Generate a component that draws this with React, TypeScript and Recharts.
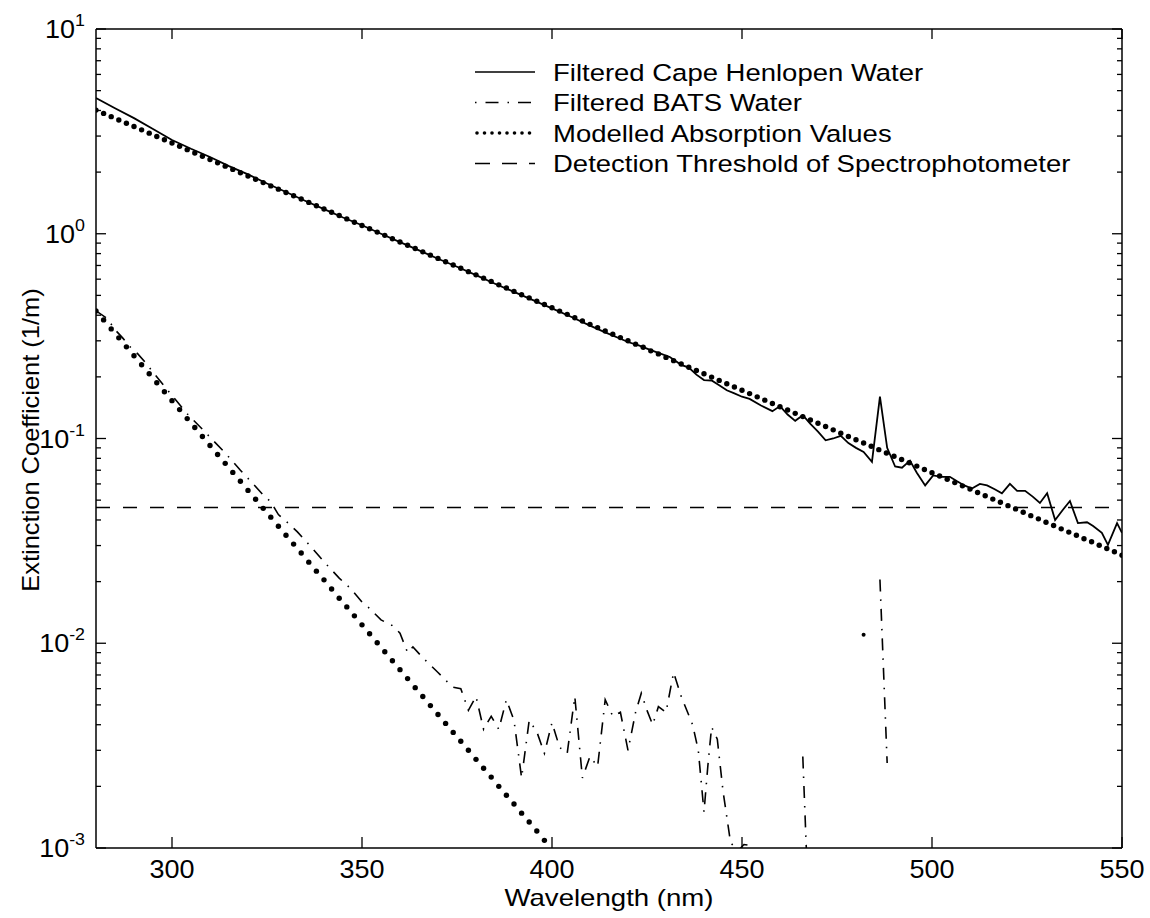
import React from 'react';
import { LineChart, Line, XAxis, YAxis, ReferenceLine } from 'recharts';

const FONT = '"Liberation Sans", Arial, Helvetica, sans-serif';

// Filtered Cape Henlopen water (solid)
const capeNm = [
  280, 285, 290, 295, 300, 305, 310, 315, 320, 325, 330, 335, 340, 345, 350, 355, 360, 365, 370, 375,
  380, 385, 390, 395, 400, 405, 410, 414, 418, 420, 423, 426, 428, 431, 434, 436, 438, 440, 442, 444,
  446, 448, 450, 452, 455, 458, 460, 462, 464, 466, 468, 470, 472, 474, 476, 478, 480, 482, 484.2, 486.3,
  488.2, 490.3, 492.1, 494.2, 496, 498.2, 500.3, 502.5, 504.7, 506.5, 508.5, 510.5, 512.6, 514.5, 516.5, 518.4, 520.5, 522.4, 524.5, 526.5,
  528.4, 530.3, 532.4, 534.5, 536.3, 538.4, 540.8, 542.4, 544.7, 546.3, 548.7, 550,
];
const capeVal = [
  4.6, 4.1, 3.67, 3.25, 2.87, 2.6, 2.37, 2.14, 1.95, 1.76, 1.6, 1.45, 1.32, 1.2, 1.1, 1.0, 0.91, 0.83, 0.755, 0.69,
  0.628, 0.57, 0.52, 0.474, 0.432, 0.393, 0.356, 0.33, 0.307, 0.296, 0.284, 0.27, 0.262, 0.25, 0.229, 0.222, 0.205, 0.193, 0.192, 0.182,
  0.172, 0.166, 0.16, 0.156, 0.145, 0.136, 0.144, 0.131, 0.122, 0.13, 0.118, 0.108, 0.098, 0.1, 0.103, 0.095, 0.09, 0.086, 0.077, 0.16,
  0.09, 0.073, 0.072, 0.078, 0.068, 0.059, 0.066, 0.065, 0.065, 0.062, 0.059, 0.057, 0.06, 0.059, 0.0565, 0.054, 0.06, 0.0555, 0.0555, 0.052,
  0.0484, 0.054, 0.04, 0.045, 0.0495, 0.0386, 0.039, 0.0374, 0.0346, 0.0302, 0.0386, 0.0346,
];

// Filtered BATS water (dash-dot); null = below detection / no value
const batsNm = [
  280, 283, 285, 287, 289, 291, 293, 295, 298, 301, 304, 308, 311, 314, 318, 321, 324, 326, 328, 331,
  333, 337, 340, 344, 347, 350, 352, 355, 358, 360, 362, 363.4, 366, 370, 372, 374, 376, 378, 380, 382,
  384, 386, 388, 390, 392, 394, 396, 398, 400, 402, 404, 406, 408, 410, 412, 414, 416, 418, 420, 422,
  423.5, 425, 426.5, 428, 430, 432, 434, 437, 438.5, 440, 441, 442, 443.5, 445, 447, 449, 450.5, 452, 453, 454,
  466, 468, 469, 482, 483, 486.3, 488.2, 489,
];
const batsVal = [
  0.42, 0.385, 0.34, 0.31, 0.28, 0.259, 0.235, 0.211, 0.18, 0.154, 0.132, 0.111, 0.097, 0.085, 0.07, 0.061, 0.053, 0.049, 0.0425, 0.038,
  0.035, 0.029, 0.025, 0.0208, 0.0185, 0.0159, 0.0148, 0.013, 0.0122, 0.0112, 0.009, 0.0096, 0.0085, 0.0072, 0.0066, 0.0061, 0.006, 0.0047, 0.0055, 0.0038,
  0.0044, 0.0038, 0.0053, 0.0042, 0.0022, 0.0042, 0.0037, 0.0029, 0.0041, 0.0031, 0.0029, 0.0055, 0.0022, 0.0028, 0.0025, 0.0053, 0.0044, 0.0046, 0.003, 0.0046,
  0.0057, 0.0047, 0.004, 0.0049, 0.0046, 0.0072, 0.0055, 0.004, 0.003, 0.0015, 0.0025, 0.0039, 0.0034, 0.0019, 0.00106, 0.00097, 0.00104, 0.00103, 0.0003, null,
  0.0028, 0.0003, null, 0.011, null, 0.0205, 0.0026, null,
];

// Modelled absorption, Cape Henlopen (2 nm grid, 280-550)
const capeModelVal = [
  4.018, 3.871, 3.731, 3.595, 3.464, 3.338, 3.217, 3.1, 2.987, 2.878,
  2.773, 2.673, 2.575, 2.481, 2.391, 2.304, 2.22, 2.139, 2.062, 1.987,
  1.914, 1.845, 1.778, 1.713, 1.651, 1.59, 1.532, 1.477, 1.423, 1.371,
  1.321, 1.273, 1.227, 1.182, 1.139, 1.098, 1.058, 1.019, 0.982, 0.946,
  0.912, 0.879, 0.847, 0.816, 0.786, 0.758, 0.73, 0.704, 0.678, 0.653,
  0.63, 0.607, 0.585, 0.563, 0.543, 0.523, 0.504, 0.486, 0.468, 0.451,
  0.435, 0.419, 0.404, 0.389, 0.375, 0.361, 0.348, 0.335, 0.323, 0.311,
  0.3, 0.289, 0.279, 0.268, 0.259, 0.249, 0.24, 0.231, 0.223, 0.215,
  0.207, 0.1995, 0.1922, 0.1852, 0.1785, 0.172, 0.1657, 0.1597, 0.1539, 0.1483,
  0.1429, 0.1377, 0.1327, 0.1279, 0.1232, 0.1187, 0.1144, 0.1102, 0.1062, 0.1023,
  0.0986, 0.095, 0.0916, 0.0882, 0.085, 0.0819, 0.079, 0.0761, 0.0733, 0.0706,
  0.0681, 0.0656, 0.0632, 0.0609, 0.0587, 0.0566, 0.0545, 0.0525, 0.0506, 0.0488,
  0.047, 0.0453, 0.0436, 0.042, 0.0405, 0.039, 0.0376, 0.0362, 0.0349, 0.0337,
  0.0324, 0.0313, 0.0301, 0.029, 0.028, 0.0269,
];

// Modelled absorption, BATS (2 nm grid, 280-398)
const batsModelVal = [
  0.4198, 0.3795, 0.343, 0.3101, 0.2803, 0.2535, 0.2291, 0.2071, 0.1873, 0.1693,
  0.1531, 0.1384, 0.1251, 0.1131, 0.1023, 0.0925, 0.0836, 0.0756, 0.0683, 0.0618,
  0.0558, 0.0505, 0.0456, 0.0413, 0.0373, 0.0337, 0.0305, 0.0276, 0.0249, 0.0225,
  0.0204, 0.0184, 0.0166, 0.01505, 0.01361, 0.0123, 0.01112, 0.01006, 0.00909, 0.00822,
  0.00743, 0.00672, 0.00607, 0.00549, 0.00496, 0.00449, 0.00406, 0.00367, 0.00332, 0.003,
  0.00271, 0.00245, 0.00222, 0.002, 0.00181, 0.00164, 0.00148, 0.00134, 0.00121, 0.00109,
];

const THRESHOLD = 0.046;

const X_TICKS = [300, 350, 400, 450, 500, 550];
const Y_TICKS: number[] = [];
for (const d of [0.001, 0.01, 0.1, 1]) for (let m = 1; m < 10; m++) Y_TICKS.push(+(m * d).toPrecision(3));
Y_TICKS.push(10);

const LEGEND = [
  { label: 'Filtered Cape Henlopen Water', kind: 'solid' },
  { label: 'Filtered BATS Water', kind: 'dashdot' },
  { label: 'Modelled Absorption Values', kind: 'dots' },
  { label: 'Detection Threshold of Spectrophotometer', kind: 'dashed' },
];

const toRows = (xs: number[], ys: (number | null)[]) => xs.map((x, i) => ({ x, v: ys[i] }));
const grid = (start: number, n: number) => Array.from({ length: n }, (_, i) => start + 2 * i);

const capeRows = toRows(capeNm, capeVal);
const batsRows = toRows(batsNm, batsVal);
const capeModelRows = toRows(grid(280, capeModelVal.length), capeModelVal);
const batsModelRows = toRows(grid(280, batsModelVal.length), batsModelVal);

const isMajor = (v: number) => Math.abs(Math.log10(v) - Math.round(Math.log10(v))) < 1e-6;

const LeftTick = (props: any) => {
  const { x, y, payload } = props;
  const v = payload.value;
  const major = isMajor(v);
  const exp = Math.round(Math.log10(v));
  return (
    <g>
      <line x1={x} x2={x + (major ? 10 : 5)} y1={y} y2={y} stroke="#000" strokeWidth={1.3} />
      {major && (
        <text
          transform={`translate(${x - 11} ${y + 9}) scale(1.08 1)`}
          textAnchor="end"
          fontSize={25}
          fontFamily={FONT}
          fill="#000"
        >
          10<tspan dy={-12} fontSize={16.5}>{exp}</tspan>
        </text>
      )}
    </g>
  );
};

const RightTick = (props: any) => {
  const { x, y, payload } = props;
  const major = isMajor(payload.value);
  return <line x1={x} x2={x - (major ? 10 : 5)} y1={y} y2={y} stroke="#000" strokeWidth={1.3} />;
};

const BottomTick = (props: any) => {
  const { x, y, payload } = props;
  return (
    <g>
      <line x1={x} x2={x} y1={y} y2={y - 11} stroke="#000" strokeWidth={1.3} />
      <text
        transform={`translate(${x} ${y + 30}) scale(1.08 1)`}
        textAnchor="middle"
        fontSize={25}
        fontFamily={FONT}
        fill="#000"
      >
        {payload.value}
      </text>
    </g>
  );
};

const TopTick = (props: any) => {
  const { x, y } = props;
  return <line x1={x} x2={x} y1={y} y2={y + 10} stroke="#000" strokeWidth={1.3} />;
};

// single points between gaps are drawn as a small dot
const batsDot = (p: any) => {
  const i = p.index;
  const lone = batsVal[i] != null && batsVal[i - 1] == null && batsVal[i + 1] == null;
  if (lone) return <circle key={`bd-${i}`} cx={p.cx} cy={p.cy} r={2} fill="#000" />;
  return <g key={`bd-${i}`} />;
};

const axisLine = { stroke: '#000', strokeWidth: 1.5 };

function LegendSample({ kind, y }: { kind: string; y: number }) {
  const x1 = 475;
  const x2 = 535;
  if (kind === 'dots') {
    const xs = [477, 484.5, 492, 499.5, 507, 514.5, 522, 529.5];
    return <g>{xs.map((x) => <circle key={x} cx={x} cy={y} r={1.8} fill="#000" />)}</g>;
  }
  const dash = kind === 'dashdot' ? '1.5 9 13 9' : kind === 'dashed' ? '15 12' : undefined;
  return <line x1={x1} x2={x2} y1={y} y2={y} stroke="#000" strokeWidth={1.6} strokeDasharray={dash} />;
}

export default function App() {
  return (
    <div style={{ position: 'absolute', left: 0, top: 0, width: 1150, height: 918, background: '#fff' }}>
      <LineChart width={1150} height={918} margin={{ top: 28, right: 27, bottom: 69, left: 95 }}>
        <XAxis
          xAxisId="b"
          dataKey="x"
          type="number"
          domain={[280, 550]}
          allowDataOverflow
          ticks={X_TICKS}
          interval={0}
          height={1}
          tickSize={0}
          tickMargin={0}
          tickLine={false}
          axisLine={axisLine}
          tick={<BottomTick />}
        />
        <XAxis
          xAxisId="t"
          orientation="top"
          dataKey="x"
          type="number"
          domain={[280, 550]}
          allowDataOverflow
          ticks={X_TICKS}
          interval={0}
          height={1}
          tickSize={0}
          tickMargin={0}
          tickLine={false}
          axisLine={axisLine}
          tick={<TopTick />}
        />
        <YAxis
          yAxisId="l"
          scale="log"
          type="number"
          domain={[0.001, 10]}
          allowDataOverflow
          ticks={Y_TICKS}
          interval={0}
          width={1}
          tickSize={0}
          tickMargin={0}
          tickLine={false}
          axisLine={axisLine}
          tick={<LeftTick />}
        />
        <YAxis
          yAxisId="r"
          orientation="right"
          scale="log"
          type="number"
          domain={[0.001, 10]}
          allowDataOverflow
          ticks={Y_TICKS}
          interval={0}
          width={1}
          tickSize={0}
          tickMargin={0}
          tickLine={false}
          axisLine={axisLine}
          tick={<RightTick />}
        />
        <ReferenceLine
          xAxisId="b"
          yAxisId="l"
          y={THRESHOLD}
          stroke="#000"
          strokeWidth={1.5}
          strokeDasharray="14 13"
        />
        <Line
          xAxisId="b"
          yAxisId="l"
          data={capeModelRows}
          dataKey="v"
          stroke="none"
          dot={{ r: 2.7, fill: '#000', stroke: 'none' }}
          activeDot={false}
          isAnimationActive={false}
        />
        <Line
          xAxisId="b"
          yAxisId="l"
          data={batsModelRows}
          dataKey="v"
          stroke="none"
          dot={{ r: 2.7, fill: '#000', stroke: 'none' }}
          activeDot={false}
          isAnimationActive={false}
        />
        <Line
          xAxisId="b"
          yAxisId="l"
          data={capeRows}
          dataKey="v"
          stroke="#000"
          strokeWidth={1.8}
          dot={false}
          activeDot={false}
          isAnimationActive={false}
        />
        <Line
          xAxisId="b"
          yAxisId="l"
          data={batsRows}
          dataKey="v"
          stroke="#000"
          strokeWidth={1.6}
          strokeDasharray="12 8 1.5 8"
          dot={batsDot}
          activeDot={false}
          connectNulls={false}
          isAnimationActive={false}
        />
      </LineChart>
      <svg width={1150} height={918} style={{ position: 'absolute', left: 0, top: 0, pointerEvents: 'none' }}>
        {LEGEND.map((item, i) => {
          const cy = 72 + i * 30.5;
          return (
            <g key={item.label}>
              <LegendSample kind={item.kind} y={cy} />
              <text
                transform={`translate(553 ${cy + 8.5}) scale(1.17 1)`}
                fontSize={23.5}
                fontFamily={FONT}
                fill="#000"
              >
                {item.label}
              </text>
            </g>
          );
        })}
        <text
          transform="translate(609 906) scale(1.2 1)"
          textAnchor="middle"
          fontSize={23}
          fontFamily={FONT}
          fill="#000"
        >
          Wavelength (nm)
        </text>
        <text
          transform="translate(39 440) rotate(-90) scale(1.06 1)"
          textAnchor="middle"
          fontSize={24}
          fontFamily={FONT}
          fill="#000"
        >
          Extinction Coefficient (1/m)
        </text>
      </svg>
    </div>
  );
}
